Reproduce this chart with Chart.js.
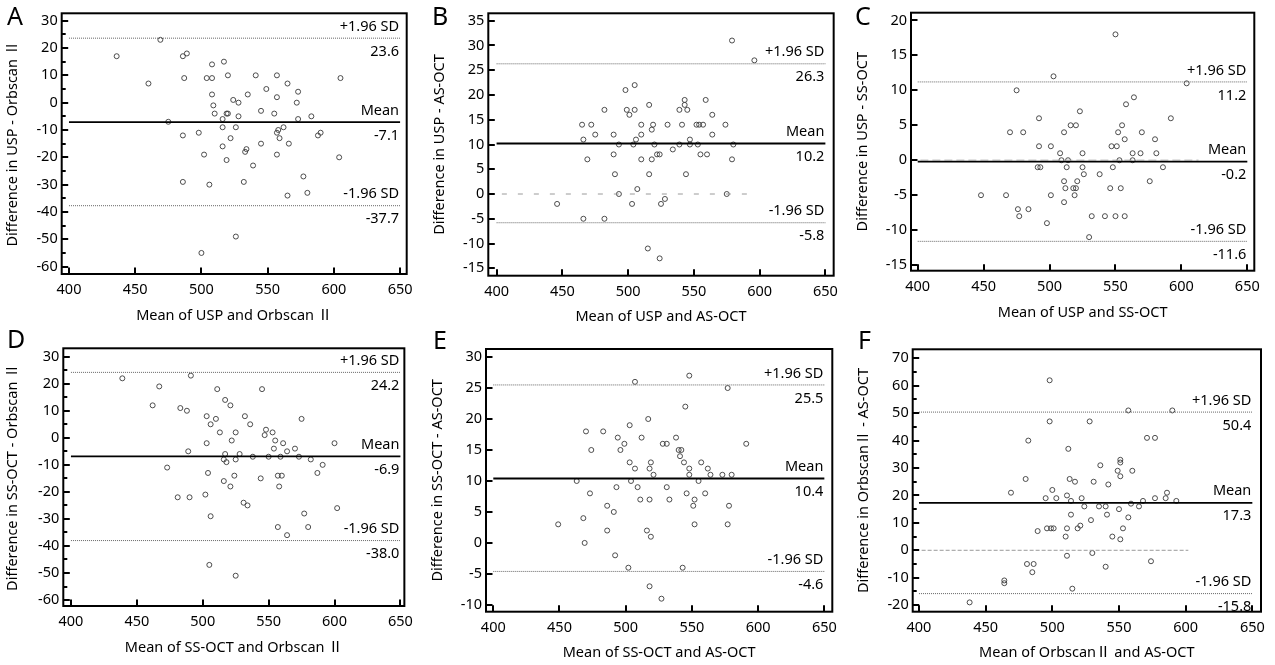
<!DOCTYPE html>
<html><head><meta charset="utf-8">
<script src="https://cdn.jsdelivr.net/npm/chart.js@4.4.1/dist/chart.umd.min.js"></script>
<style>
html,body{margin:0;padding:0;background:#fff;width:1275px;height:665px;overflow:hidden}
canvas{position:absolute}
</style></head><body>
<canvas id="cA" width="420" height="330" style="left:0;top:0"></canvas>
<canvas id="cB" width="425" height="330" style="left:420px;top:0"></canvas>
<canvas id="cC" width="430" height="330" style="left:845px;top:0"></canvas>
<canvas id="cD" width="420" height="335" style="left:0;top:330px"></canvas>
<canvas id="cE" width="425" height="335" style="left:420px;top:330px"></canvas>
<canvas id="cF" width="430" height="335" style="left:845px;top:330px"></canvas>
<script>
// ---------- DATA ----------
const xTicks = [400, 450, 500, 550, 600, 650];
const statNames = ['+1.96 SD', 'Mean', '-1.96 SD'];

// A: USP - Orbscan II
const aX = [436,469,460,475,486,489,487,486,486,498,504,508,508,508,509,510,502,506,500,517,520,516,516,516,519,520,519,522,524,528,528,526,526,535,534,533,539,532,541,545,545,549,557,557,555,557,558,559,562,557,565,566,565,572,573,573,577,580,583,588,590,605,604];
const aY = [17,23,7,-7,17,18,9,-12,-29,-11,9,9,14,3,-1,-4,-19,-30,-55,15,10,-6,-9,-16,-4,-4,-21,-13,1,0,-5,-9,-49,3,-17,-18,-23,-29,10,-3,-15,5,10,2,-4,-11,-10,-13,-9,-19,7,-15,-34,0,4,-6,-27,-33,-5,-12,-11,9,-20];
const aStats = [23.6, -7.1, -37.7];
const aYTicks = [30,20,10,0,-10,-20,-30,-40,-50,-60];

// B: USP - AS-OCT
const bX = [446,465,466,466,469,472,475,482,482,489,489,490,493,493,498,499,501,505,505,504,506,503,507,510,510,510,516,516,515,519,518,518,520,522,524,525,524,528,530,534,539,539,541,543,543,545,544,547,547,552,553,554,555,557,559,560,564,564,574,575,579,579,580,596];
const bY = [-2,14,11,-5,7,14,12,17,-5,12,8,4,10,0,21,17,16,22,17,10,11,-2,1,12,14,7,18,4,-11,14,13,7,10,8,8,-2,-13,-1,14,9,17,10,14,18,19,17,4,11,10,14,10,14,8,14,19,8,16,12,14,0,7,31,10,27];
const bStats = [26.3, 10.2, -5.8];
const bYTicks = [35,30,25,20,15,10,5,0,-5,-10,-15];
const bZero = [404, 598];

// C: USP - SS-OCT
const cX = [448,467,470,475,476,477,480,484,492,492,491,493,498,501,501,503,508,509,511,511,512,511,513,514,516,520,518,519,521,520,523,525,525,526,532,530,538,542,546,547,551,548,550,550,552,553,554,555,557,557,558,563,563,564,569,570,576,580,581,586,592,604];
const cY = [-5,-5,4,10,-7,-8,4,-7,6,2,-1,-1,-9,2,-5,12,1,0,4,-3,-4,-6,-1,0,5,5,-4,-5,-3,-4,7,1,-1,-2,-8,-11,-2,-8,-4,2,2,-1,18,-8,4,0,-4,5,3,-8,8,1,0,9,1,4,-3,3,1,-1,6,11];
const cStats = [11.2, -0.2, -11.6];
const cYTicks = [20,15,10,5,0,-5,-10,-15];
const cZero = [402, 613];

// D: SS-OCT - Orbscan II
const dX = [439,462,467,473,481,483,488,489,490,491,502,503,503,504,505,506,506,511,510,513,517,517,516,518,516,521,521,522,525,525,524,528,532,531,534,536,538,544,545,547,548,550,553,555,554,557,560,558,559,557,561,564,564,570,573,575,577,580,582,587,591,600,602,525];
const dY = [22,12,19,-11,-22,11,10,-5,-22,23,-21,8,-2,-13,-47,5,-29,18,7,2,14,-6,-8,-9,-16,12,-18,-1,2,-8,-14,-6,8,-24,-25,5,-7,-15,18,1,3,-7,2,-1,-4,-14,-14,-18,-7,-33,-2,-5,-36,-4,-7,7,-28,-33,-8,-13,-10,-2,-26,-51];
const dStats = [24.2, -6.9, -38.0];
const dYTicks = [30,20,10,0,-10,-20,-30,-40,-50,-60];

// E: SS-OCT - AS-OCT
const eX = [449,463,468,469,470,473,474,483,486,486,491,492,493,494,496,499,503,503,502,504,507,507,509,511,512,517,516,518,519,518,518,519,521,527,528,531,531,533,538,540,542,541,544,543,545,546,548,548,548,551,552,552,555,557,560,562,564,573,577,577,578,580,591];
const eY = [3,10,4,0,18,8,15,18,6,2,5,-2,9,17,15,16,19,13,-4,10,26,12,9,7,17,20,2,-7,13,12,7,1,11,-9,16,16,9,7,17,15,15,14,13,-4,22,8,27,12,11,6,7,3,10,13,8,12,11,11,25,3,6,11,16];
const eStats = [25.5, 10.4, -4.6];
const eYTicks = [30,25,20,15,10,5,0,-5,-10];

// F: Orbscan II - AS-OCT
const fX = [438,464,464,469,480,481,482,485,486,489,495,496,498,498,499,500,501,503,510,511,511,512,513,511,514,514,515,517,519,521,522,524,528,529,530,531,535,536,540,540,541,542,545,549,550,551,551,551,551,553,557,557,559,560,565,568,571,574,577,577,586,585,590,593];
const fY = [-19,-11,-12,21,26,-5,40,-8,-5,7,19,8,62,47,8,22,8,19,5,-2,20,37,26,8,18,13,-14,25,8,9,19,16,47,11,-1,25,16,31,16,-6,13,24,5,29,15,4,33,32,27,8,51,12,17,29,16,18,41,-4,41,19,21,19,51,18];
const fStats = [50.4, 17.3, -15.8];
const fYTicks = [70,60,50,40,30,20,10,0,-10,-20];
const fZero = [402, 602];

// ---------- LAYOUT / STYLE ----------
const FONT = '"Noto Sans", "Noto Sans CJK KR", sans-serif';
const panels = [
  {id:'cA', letter:'A', lx:7, ly:25, W:420, H:330, L:61.7, T:13.3, R:406.7, B:274, xr:[394.5,655], yr:[-62.7,32.7],
   xs:aX, ys:aY, stats:aStats, yt:aYTicks, minor:true, zero:null, ytitle:'Difference in USP - Orbscan Ⅱ', xtitle:'Mean of USP and Orbscan Ⅱ', ytp:4.6, xtp:5.9},
  {id:'cB', letter:'B', lx:12, ly:25, W:425, H:330, L:68.3, T:13.3, R:417.7, B:275.7, xr:[393.7,656.3], yr:[-16.5,36.5],
   xs:bX, ys:bY, stats:bStats, yt:bYTicks, minor:false, zero:bZero, zdash:[5,11], ytitle:'Difference in USP - AS-OCT', xtitle:'Mean of USP and AS-OCT', ytp:11.6, xtp:4.9},
  {id:'cC', letter:'C', lx:10, ly:25, W:430, H:330, L:66, T:12.3, R:409.3, B:270.7, xr:[394.9,655.3], yr:[-15.8,21.1],
   xs:cX, ys:cY, stats:cStats, yt:cYTicks, minor:false, zero:cZero, zdash:[8,4], ytitle:'Difference in USP - SS-OCT', xtitle:'Mean of USP and SS-OCT', ytp:9.6, xtp:8.9},
  {id:'cD', letter:'D', lx:7, ly:18, W:420, H:335, L:63.3, T:18.3, R:407, B:276, xr:[394.2,653], yr:[-62.2,33.1],
   xs:dX, ys:dY, stats:dStats, yt:dYTicks, minor:true, zero:null, ytitle:'Difference in SS-OCT - Orbscan Ⅱ', xtitle:'Mean of SS-OCT and Orbscan Ⅱ', ytp:4.6, xtp:8.3},
  {id:'cE', letter:'E', lx:13, ly:19, W:425, H:335, L:66, T:19, R:412.3, B:281.7, xr:[394.5,656], yr:[-11.1,31.3],
   xs:eX, ys:eY, stats:eStats, yt:eYTicks, minor:false, zero:null, ytitle:'Difference in SS-OCT - AS-OCT', xtitle:'Mean of SS-OCT and AS-OCT', ytp:9.6, xtp:3.3},
  {id:'cF', letter:'F', lx:13, ly:19, W:430, H:335, L:67.7, T:19.3, R:416, B:281.7, xr:[395.3,656.5], yr:[-22.4,73.3],
   xs:fX, ys:fY, stats:fStats, yt:fYTicks, minor:true, zero:fZero, zdash:[4,2], ytitle:'Difference in OrbscanⅡ - AS-OCT', xtitle:'Mean of OrbscanⅡ and AS-OCT', ytp:10.6, xtp:3.3}
];

const framePlugin = {
  id: 'frame',
  afterDatasetsDraw(chart, args, opts) {
    const p = opts.panel;
    const ctx = chart.ctx, a = chart.chartArea;
    const xs = chart.scales.x, ys = chart.scales.y;
    ctx.save();
    ctx.beginPath();
    ctx.rect(a.left, a.top, a.right - a.left, a.bottom - a.top);
    ctx.clip();
    ctx.font = '14.5px ' + FONT;
    ctx.fillStyle = '#000';
    ctx.textAlign = 'right';
    ctx.textBaseline = 'middle';
    const xr = xs.getPixelForValue(650) - 1;
    p.stats.forEach((v, i) => {
      const y = ys.getPixelForValue(v);
      ctx.fillText(statNames[i], xr, y - 11.5);
      ctx.fillText(v.toFixed(1), xr, y + 13.5);
    });
    ctx.restore();
  },
  afterDraw(chart, args, opts) {
    const p = opts.panel;
    const ctx = chart.ctx, a = chart.chartArea;
    const xs = chart.scales.x, ys = chart.scales.y;
    ctx.save();
    ctx.strokeStyle = '#000';
    ctx.lineWidth = 2;
    ctx.strokeRect(a.left, a.top, a.right - a.left, a.bottom - a.top);
    ctx.beginPath();
    p.yt.forEach((v, i) => {
      const y = Math.round(ys.getPixelForValue(v));
      ctx.moveTo(a.left, y); ctx.lineTo(a.left + 6.5, y);
      if (p.minor && i < p.yt.length - 1) {
        const ym = Math.round(ys.getPixelForValue((v + p.yt[i + 1]) / 2));
        ctx.moveTo(a.left, ym); ctx.lineTo(a.left + 4, ym);
      }
    });
    xTicks.forEach(v => {
      const x = Math.round(xs.getPixelForValue(v));
      ctx.moveTo(x, a.bottom); ctx.lineTo(x, a.bottom - 6.5);
    });
    ctx.stroke();
    ctx.fillStyle = '#000';
    ctx.font = '25px ' + FONT;
    ctx.textAlign = 'left';
    ctx.textBaseline = 'alphabetic';
    ctx.fillText(p.letter, p.lx, p.ly);
    ctx.restore();
  }
};

function makeChart(p) {
  const pts = p.xs.map((x, i) => ({x: x, y: p.ys[i]}));
  const hline = (v) => [{x: xTicks[0], y: v}, {x: xTicks[xTicks.length - 1], y: v}];
  const datasets = [];
  if (p.zero) {
    datasets.push({data: [{x: p.zero[0], y: 0}, {x: p.zero[1], y: 0}], showLine: true, pointRadius: 0,
      borderColor: '#9a9a9a', borderWidth: 1, borderDash: p.zdash});
  }
  datasets.push({data: hline(p.stats[0]), showLine: true, pointRadius: 0, borderColor: '#666', borderWidth: 1, borderDash: [1, 1]});
  datasets.push({data: hline(p.stats[2]), showLine: true, pointRadius: 0, borderColor: '#666', borderWidth: 1, borderDash: [1, 1]});
  datasets.push({data: hline(p.stats[1]), showLine: true, pointRadius: 0, borderColor: '#000', borderWidth: 1.8});
  datasets.push({data: pts, showLine: false, pointStyle: 'circle', pointRadius: 2.5, pointBorderWidth: 0.9,
    pointBorderColor: '#3a3a3a', pointBackgroundColor: 'rgba(0,0,0,0)'});
  const tickFont = {family: FONT, size: 14.5};
  return new Chart(document.getElementById(p.id), {
    type: 'scatter',
    data: {datasets: datasets},
    options: {
      responsive: false, animation: false, devicePixelRatio: 1,
      layout: {padding: {left: 0, top: p.T, right: p.W - p.R, bottom: 0}},
      plugins: {legend: {display: false}, tooltip: {enabled: false}, frame: {panel: p}},
      elements: {line: {tension: 0}},
      scales: {
        x: {
          type: 'linear', min: p.xr[0], max: p.xr[1],
          grid: {display: false, drawTicks: false}, border: {display: false},
          ticks: {color: '#000', font: tickFont, padding: 7, maxRotation: 0, autoSkip: false},
          afterBuildTicks: s => { s.ticks = xTicks.map(v => ({value: v})); },
          afterFit: s => { s.height = p.H - p.B; },
          title: {display: true, text: p.xtitle, color: '#000', font: tickFont, padding: {top: 0, bottom: p.xtp}}
        },
        y: {
          type: 'linear', min: p.yr[0], max: p.yr[1],
          grid: {display: false, drawTicks: false}, border: {display: false},
          ticks: {color: '#000', font: tickFont, padding: 4, autoSkip: false},
          afterBuildTicks: s => { s.ticks = p.yt.map(v => ({value: v})); },
          afterFit: s => { s.width = p.L; },
          title: {display: true, text: p.ytitle, color: '#000', font: tickFont, padding: {top: p.ytp, bottom: 0}}
        }
      }
    },
    plugins: [framePlugin]
  });
}
panels.forEach(makeChart);
</script>
</body></html>
